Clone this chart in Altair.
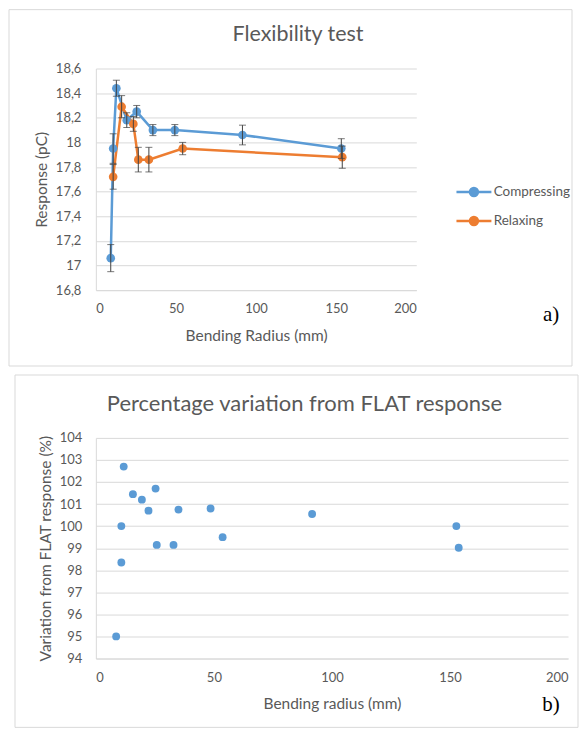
import altair as alt
import pandas as pd

# ---------------- data ----------------
series_names = ["Compressing", "Relaxing"]

comp_x = [9.3, 10.8, 12.8, 19.3, 25.5, 35.6, 49.3, 91.5, 153.2]
comp_y = [17.06, 17.95, 18.44, 18.18, 18.25, 18.10, 18.10, 18.06, 17.95]
comp_err = [0.11, 0.12, 0.065, 0.06, 0.05, 0.045, 0.045, 0.08, 0.08]

relax_x = [10.8, 16.1, 23.4, 26.5, 33.1, 54.2, 153.8]
relax_y = [17.72, 18.29, 18.15, 17.86, 17.86, 17.95, 17.88]
relax_err = [0.10, 0.09, 0.06, 0.10, 0.10, 0.05, 0.09]

var_x = [8.6, 10.8, 10.8, 11.8, 15.7, 19.5, 22.3, 25.3, 25.8, 32.9, 35.0, 48.6, 53.7, 91.6, 152.7, 153.7]
var_y = [95.0, 98.35, 100.0, 102.7, 101.45, 101.2, 100.7, 101.7, 99.15, 99.15, 100.75, 100.8, 99.5, 100.55, 100.0, 99.02]

x_ticks = [0, 50, 100, 150, 200]
y1_ticks = [16.8, 17.0, 17.2, 17.4, 17.6, 17.8, 18.0, 18.2, 18.4, 18.6]
y2_ticks = [94, 95, 96, 97, 98, 99, 100, 101, 102, 103, 104]

title_a = ["Flexibility test"]
title_b = ["Percentage variation from FLAT response"]
panel_a = ["a)"]
panel_b = ["b)"]

# ---------------- styling ----------------
GRID = "#d9d9d9"
TXT = "#595959"
BLUE = "#5b9bd5"
ORANGE = "#ed7d31"
ERR = "#404040"
FONT = "Lato"

rows = []
for s, xs, ys, es in [(series_names[0], comp_x, comp_y, comp_err),
                      (series_names[1], relax_x, relax_y, relax_err)]:
    for x, y, e in zip(xs, ys, es):
        rows.append({"series": s, "x": x, "y": y, "lo": y - e, "hi": y + e})
df1 = pd.DataFrame(rows)
df2 = pd.DataFrame({"x": var_x, "y": var_y})

W1, H1 = 321, 222
W2, H2 = 473, 221

col_scale = alt.Scale(domain=series_names, range=[BLUE, ORANGE])

xs1 = alt.Scale(domain=[0, 200], nice=False)
ys1 = alt.Scale(domain=[16.8, 18.6], nice=False, zero=False)

x_axis1 = alt.Axis(values=x_ticks, title="Bending Radius (mm)", grid=False, ticks=False,
                   labelPadding=12, titlePadding=13)
y_axis1 = alt.Axis(values=y1_ticks, title="Response (pC)", grid=True, ticks=False,
                   labelPadding=15, titlePadding=6,
                   labelExpr="replace(format(datum.value, '.1~f'), '.', ',')")

X1 = alt.X("x:Q", scale=xs1, axis=x_axis1)

legend1 = alt.Legend(
    title=None, orient="none", legendX=372, legendY=117,
    symbolType="M-3.5,0H3.5M0.8,0A0.8,0.8,0,1,1,-0.8,0A0.8,0.8,0,1,1,0.8,0Z",
    symbolSize=100, symbolStrokeWidth=2.5, labelOffset=13,
    labelFont=FONT, labelFontSize=13.5, labelColor=TXT, rowPadding=10, padding=0,
)

one = alt.Data(values=[{"a": 1}])

border1 = alt.Chart(one).mark_rect(filled=False, stroke=GRID, strokeWidth=1).encode(
    x=alt.value(-87), x2=alt.value(477), y=alt.value(-59), y2=alt.value(298))

base1 = alt.Chart(df1)
lines1 = base1.mark_line(strokeWidth=2.5).encode(
    x=X1, y=alt.Y("y:Q", scale=ys1, axis=y_axis1),
    stroke=alt.Stroke("series:N", scale=col_scale, legend=legend1))
pts1 = base1.mark_circle(size=75, opacity=1).encode(
    x=X1, y=alt.Y("y:Q", scale=ys1, axis=y_axis1),
    fill=alt.Fill("series:N", scale=col_scale, legend=legend1))
err1 = base1.mark_rule(color=ERR, strokeWidth=1).encode(
    x=X1, y=alt.Y("lo:Q", scale=ys1, axis=y_axis1), y2="hi:Q")
caplo1 = base1.mark_tick(color=ERR, thickness=1, size=7, orient="horizontal").encode(
    x=X1, y=alt.Y("lo:Q", scale=ys1, axis=y_axis1))
caphi1 = base1.mark_tick(color=ERR, thickness=1, size=7, orient="horizontal").encode(
    x=X1, y=alt.Y("hi:Q", scale=ys1, axis=y_axis1))

t1 = alt.Chart(alt.Data(values=[{"t": title_a[0]}])).mark_text(
    font=FONT, fontSize=21.5, color=TXT, align="center", baseline="middle").encode(
    x=alt.value(297.5 - 95), y=alt.value(33 - 67), text="t:N")
lab1 = alt.Chart(alt.Data(values=[{"t": panel_a[0]}])).mark_text(
    font="Liberation Serif", fontSize=21, color="#000000", align="center", baseline="middle").encode(
    x=alt.value(551 - 95), y=alt.value(314 - 67), text="t:N")

top = alt.layer(border1, lines1, pts1, err1, caplo1, caphi1, t1, lab1).properties(width=W1, height=H1)

# ---------------- panel b ----------------
xs2 = alt.Scale(domain=[0, 200], nice=False)
ys2 = alt.Scale(domain=[94, 104], nice=False, zero=False)
x_axis2 = alt.Axis(values=x_ticks, title="Bending radius (mm)", grid=False, ticks=False,
                   labelPadding=13, titlePadding=12)
y_axis2 = alt.Axis(values=y2_ticks, title="Variation from FLAT response (%)", grid=True, ticks=False,
                   labelPadding=14, titlePadding=6)

border2 = alt.Chart(one).mark_rect(filled=False, stroke=GRID, strokeWidth=1).encode(
    x=alt.value(-81), x2=alt.value(483), y=alt.value(-63), y2=alt.value(290))
pts2 = alt.Chart(df2).mark_circle(size=62, opacity=1, color=BLUE).encode(
    x=alt.X("x:Q", scale=xs2, axis=x_axis2), y=alt.Y("y:Q", scale=ys2, axis=y_axis2))
t2 = alt.Chart(alt.Data(values=[{"t": title_b[0]}])).mark_text(
    font=FONT, fontSize=22, color=TXT, align="center", baseline="middle").encode(
    x=alt.value(298 - 89), y=alt.value(401 - 435), text="t:N")
lab2 = alt.Chart(alt.Data(values=[{"t": panel_b[0]}])).mark_text(
    font="Liberation Serif", fontSize=21, color="#000000", align="center", baseline="middle").encode(
    x=alt.value(545 - 89), y=alt.value(703 - 435), text="t:N")

bottom = alt.layer(border2, pts2, t2, lab2).properties(width=W2, height=H2)

chart = alt.vconcat(top, bottom, spacing=7).properties(padding=0).configure_view(
    stroke="transparent").configure_axis(
    domainColor=GRID, gridColor=GRID, labelColor=TXT, titleColor=TXT,
    labelFont=FONT, titleFont=FONT, labelFontSize=13, titleFontSize=15.5,
    titleFontWeight="normal")

chart.save("out.html", embed_options={"renderer": "svg", "actions": False})
